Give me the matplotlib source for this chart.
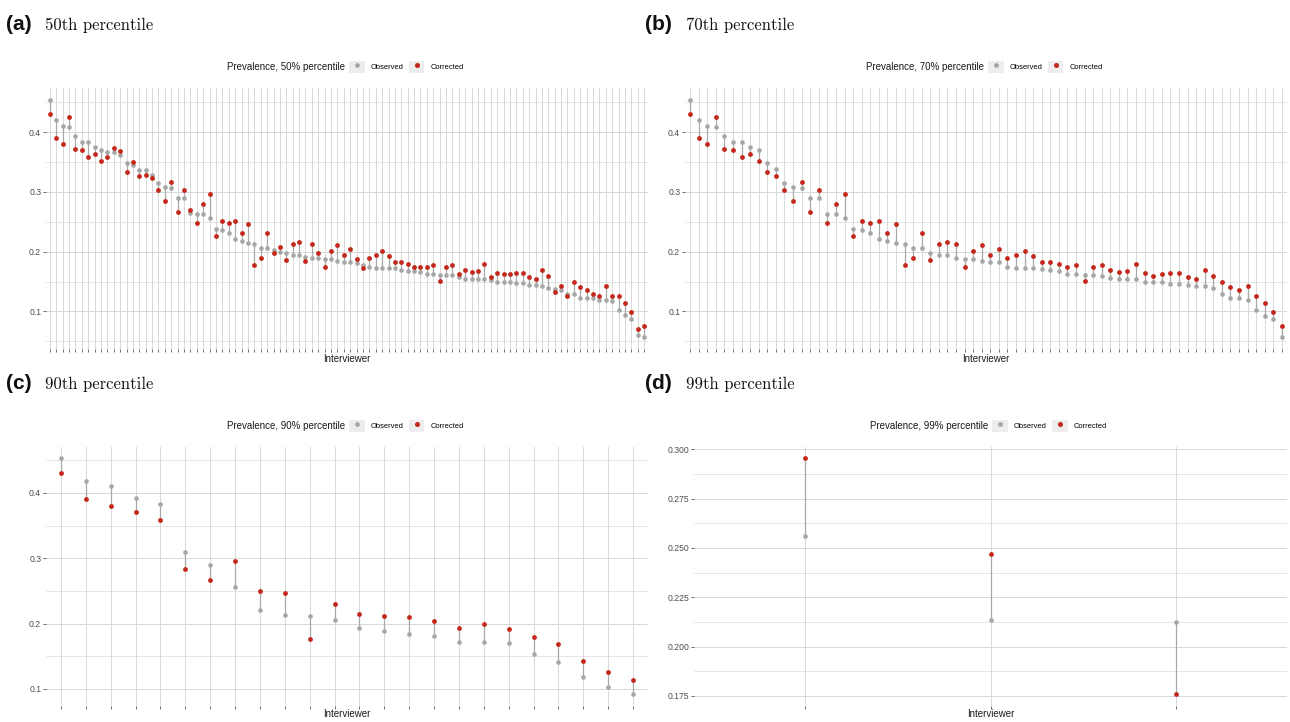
import matplotlib
matplotlib.use("Agg")
import matplotlib.pyplot as plt
import numpy as np
from matplotlib.lines import Line2D
from matplotlib.patches import Rectangle
from matplotlib.legend_handler import HandlerTuple
from matplotlib.ticker import MultipleLocator, FormatStrFormatter

plt.rcParams['font.family'] = ['Liberation Sans', 'DejaVu Sans']

# ---- data: prevalence per interviewer, observed vs corrected ----
obs_50 = [0.454, 0.420, 0.410, 0.408, 0.394, 0.384, 0.384, 0.375, 0.370, 0.367,
          0.367, 0.362, 0.348, 0.345, 0.337, 0.336, 0.329, 0.315, 0.309, 0.306,
          0.289, 0.289, 0.264, 0.263, 0.263, 0.256, 0.238, 0.237, 0.232, 0.222,
          0.218, 0.214, 0.213, 0.206, 0.206, 0.203, 0.200, 0.197, 0.194, 0.194,
          0.191, 0.189, 0.189, 0.188, 0.188, 0.185, 0.182, 0.182, 0.181, 0.178,
          0.174, 0.173, 0.172, 0.172, 0.172, 0.170, 0.167, 0.167, 0.166, 0.163,
          0.163, 0.161, 0.161, 0.161, 0.157, 0.155, 0.155, 0.154, 0.154, 0.153,
          0.150, 0.150, 0.149, 0.148, 0.147, 0.145, 0.144, 0.142, 0.140, 0.138,
          0.136, 0.130, 0.130, 0.122, 0.122, 0.122, 0.119, 0.119, 0.117, 0.103,
          0.094, 0.088, 0.060, 0.057]
corr_50 = [0.431, 0.390, 0.3805, 0.425, 0.371, 0.370, 0.359, 0.364, 0.352, 0.358,
           0.373, 0.369, 0.334, 0.350, 0.326, 0.328, 0.324, 0.303, 0.284, 0.317,
           0.267, 0.303, 0.270, 0.248, 0.279, 0.296, 0.227, 0.252, 0.248, 0.251,
           0.231, 0.247, 0.177, 0.190, 0.231, 0.198, 0.207, 0.186, 0.212, 0.216,
           0.184, 0.213, 0.197, 0.175, 0.2005, 0.211, 0.194, 0.205, 0.188, 0.173,
           0.189, 0.194, 0.2005, 0.192, 0.182, 0.182, 0.180, 0.175, 0.174, 0.175,
           0.177, 0.151, 0.175, 0.178, 0.162, 0.169, 0.166, 0.168, 0.180, 0.158,
           0.164, 0.162, 0.163, 0.165, 0.165, 0.157, 0.154, 0.169, 0.160, 0.133,
           0.143, 0.125, 0.149, 0.141, 0.136, 0.129, 0.125, 0.143, 0.125, 0.126,
           0.114, 0.099, 0.070, 0.076]

obs_70 = [0.454, 0.4195, 0.410, 0.408, 0.394, 0.384, 0.384, 0.375, 0.370, 0.348,
          0.338, 0.315, 0.309, 0.306, 0.289, 0.289, 0.2635, 0.263, 0.256, 0.238,
          0.237, 0.232, 0.222, 0.218, 0.214, 0.213, 0.206, 0.206, 0.197, 0.194,
          0.194, 0.189, 0.188, 0.187, 0.185, 0.182, 0.182, 0.174, 0.173, 0.172,
          0.172, 0.171, 0.169, 0.167, 0.163, 0.163, 0.161, 0.161, 0.160, 0.1555,
          0.155, 0.154, 0.154, 0.150, 0.149, 0.149, 0.1465, 0.1465, 0.144, 0.143,
          0.142, 0.139, 0.130, 0.123, 0.123, 0.119, 0.103, 0.093, 0.088, 0.057]
corr_70 = [0.431, 0.390, 0.3805, 0.425, 0.371, 0.370, 0.359, 0.364, 0.352, 0.334,
           0.326, 0.303, 0.284, 0.317, 0.267, 0.303, 0.248, 0.279, 0.296, 0.227,
           0.252, 0.248, 0.251, 0.231, 0.247, 0.177, 0.190, 0.231, 0.186, 0.212,
           0.216, 0.213, 0.175, 0.2005, 0.211, 0.194, 0.205, 0.189, 0.194, 0.2005,
           0.192, 0.182, 0.182, 0.180, 0.175, 0.177, 0.151, 0.175, 0.178, 0.169,
           0.166, 0.168, 0.180, 0.164, 0.160, 0.163, 0.165, 0.165, 0.157, 0.154,
           0.169, 0.160, 0.149, 0.141, 0.136, 0.143, 0.126, 0.114, 0.099, 0.076]

obs_90 = [0.453, 0.419, 0.410, 0.393, 0.383, 0.309, 0.289, 0.256, 0.221, 0.213,
          0.212, 0.205, 0.193, 0.189, 0.184, 0.181, 0.172, 0.1716, 0.171, 0.154,
          0.141, 0.118, 0.103, 0.092]
corr_90 = [0.431, 0.390, 0.380, 0.371, 0.358, 0.284, 0.2665, 0.2955, 0.250, 0.247,
           0.176, 0.2305, 0.2147, 0.212, 0.210, 0.2046, 0.193, 0.200, 0.192, 0.180,
           0.169, 0.143, 0.126, 0.113]

obs_99 = [0.256, 0.2134, 0.2122]
corr_99 = [0.2955, 0.2467, 0.1758]

GRAY = '#A6A6A6'
RED = '#C3281D'
SEG = '#A8A8A8'
GRID = '#D8D8D8'

W, H = 1290, 722
fig = plt.figure(figsize=(W / 100, H / 100), dpi=100)


def px_axes(l, t, r, b):
    return fig.add_axes([l / W, 1 - b / H, (r - l) / W, (b - t) / H])


def panel(ax, obs, corr, pct, major, fmt, lpad):
    x = np.arange(len(obs))
    ax.vlines(x, obs, corr, color=SEG, lw=0.9, zorder=2)
    ax.scatter(x, obs, s=11, color=GRAY, lw=0, zorder=3)
    ax.scatter(x, corr, s=12, color=RED, lw=0, zorder=4)
    ax.set_xlim(-0.6, len(obs) - 0.4)
    ax.margins(y=0.05)
    ax.set_xticks(x)
    ax.set_xticklabels([])
    ax.yaxis.set_major_locator(MultipleLocator(major))
    ax.yaxis.set_minor_locator(MultipleLocator(major / 2))
    ax.yaxis.set_major_formatter(FormatStrFormatter(fmt))
    ax.grid(True, which='major', color=GRID, lw=0.7, zorder=0)
    ax.grid(True, which='minor', axis='y', color=GRID, lw=0.45, zorder=0)
    ax.set_axisbelow(True)
    for s in ax.spines.values():
        s.set_visible(False)
    ax.tick_params(axis='y', which='major', length=2.5, width=0.5, color='#333333',
                   labelsize=6.2, labelcolor='#4D4D4D', pad=1)
    ax.tick_params(axis='x', which='major', length=2, width=0.5, color='#333333', pad=0)
    ax.tick_params(which='minor', length=0)
    ax.set_xlabel('Interviewer', fontsize=7, color='#1A1A1A', labelpad=lpad)

    # legend: title to the left of the keys, as in ggplot's top legend
    ax.text(0.497, 1.08, 'Prevalence, %d%% percentile' % pct, transform=ax.transAxes,
            ha='right', va='center', fontsize=7, color='#1A1A1A')
    bg = dict(facecolor='#EDEDED', edgecolor='none')
    h_obs = (Rectangle((0, 0), 1, 1, **bg),
             Line2D([], [], marker='o', ls='none', color=GRAY, markersize=2.4))
    h_cor = (Rectangle((0, 0), 1, 1, **bg),
             Line2D([], [], marker='o', ls='none', color=RED, markersize=2.6))
    ax.legend([h_obs, h_cor], ['Observed', 'Corrected'], ncol=2,
              handler_map={tuple: HandlerTuple(ndivide=1, pad=0)},
              loc='center left', bbox_to_anchor=(0.503, 1.08), frameon=False,
              fontsize=5.4, handlelength=2.1, handleheight=2.1,
              handletextpad=0.8, columnspacing=0.7, borderpad=0, borderaxespad=0)


ax_a = px_axes(46, 88, 648, 349)
panel(ax_a, obs_50, corr_50, 50, 0.1, '%.1f', 1.5)
ax_b = px_axes(685, 88, 1287, 349)
panel(ax_b, obs_70, corr_70, 70, 0.1, '%.1f', 1.5)
ax_c = px_axes(46, 446.5, 648, 706)
panel(ax_c, obs_90, corr_90, 90, 0.1, '%.1f', 0)
ax_d = px_axes(694, 446.5, 1287, 706)
panel(ax_d, obs_99, corr_99, 99, 0.025, '%.3f', 0)

# panel headings
heads = [('(a)', '50th percentile', 6, 45, 30),
         ('(b)', '70th percentile', 645, 686, 30),
         ('(c)', '90th percentile', 6, 45, 389),
         ('(d)', '99th percentile', 645, 686, 389)]
for tag, txt, x0, x1, yb in heads:
    fig.text(x0 / W, 1 - yb / H, tag, fontsize=15, fontweight='bold',
             va='baseline', ha='left', color='#111111')
    fig.text(x1 / W, 1 - yb / H, txt, fontsize=12, family='cmr10',
             va='baseline', ha='left', color='#111111')

fig.savefig('out.png', dpi=100)
